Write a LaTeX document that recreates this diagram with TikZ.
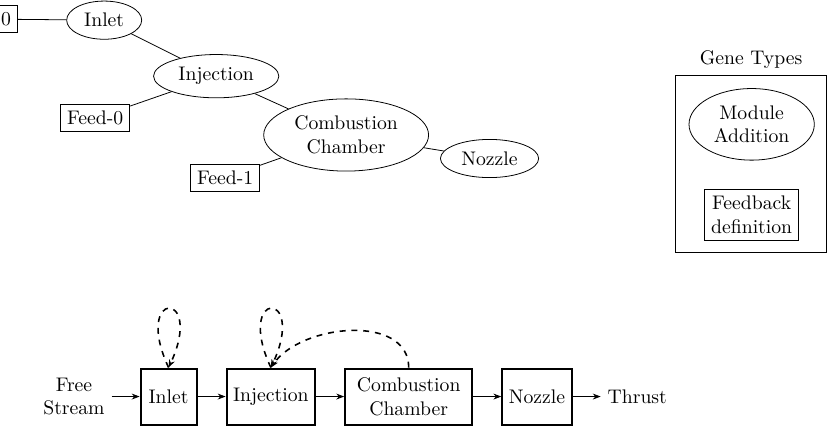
\documentclass[tikz,border=0pt]{standalone}
\usetikzlibrary{positioning,shapes.geometric,arrows.meta}
\begin{document}
\begin{tikzpicture}[
    x=1cm, y=1cm,
    gene/.style={draw, ellipse, align=center},
    feed/.style={draw, rectangle, align=center},
    block/.style={draw, line width=1pt, minimum width=1cm, minimum height=1cm, align=center},
    flow/.style={-{Stealth[length=4pt]}},
    fb/.style={thick, dashed, -{Stealth[length=4pt]}},
    selfloop/.style={fb, out=115, in=65, distance=1.55cm}
  ]
  \useasboundingbox (0,0) rectangle (14.89,7.68);

  % Genoma (em cima)
  \node[feed, anchor=east] (fd2) at (0.32,7.34) {Feed-0};
  \node[gene] (inlet) at (1.86,7.32) {Inlet};
  \node[gene] (inj) at (3.86,6.32) {Injection};
  \node[feed] (fd0) at (1.70,5.57) {Feed-0};
  \node[gene] (comb) at (6.18,5.27) {Combustion\\Chamber};
  \node[feed] (fd1) at (4.02,4.51) {Feed-1};
  \node[gene] (noz) at (8.74,4.85) {Nozzle};

  \draw (fd2) -- (inlet);
  \draw (inlet) -- (inj);
  \draw (inj) -- (fd0);
  \draw (inj) -- (comb);
  \draw (comb) -- (fd1);
  \draw (comb) -- (noz);

  % Legenda
  \node[draw, minimum width=2.70cm, minimum height=3.15cm,
        label={above:Gene Types}] (legend) at (13.41,4.75) {};
  \node[gene] (lgene) at (13.42,5.46) {Module\\Addition};
  \node[feed] (lfeed) at (13.42,3.84) {Feedback\\definition};

  % Motor (em baixo)
  \node[block] (inlet2) at (3.01,0.60) {Inlet};
  \node[block, right=0.5cm of inlet2] (inj2) {Injection};
  \node[block, right=0.5cm of inj2, minimum width=2.27cm] (comb2) {Combustion\\Chamber};
  \node[block, right=0.5cm of comb2] (noz2) {Nozzle};
  \node[left=0.5cm of inlet2, align=center] (free) {Free\\Stream};
  \node[right=0.5cm of noz2] (thrust) {Thrust};

  \draw[flow] (free) -- (inlet2);
  \draw[flow] (inlet2) -- (inj2);
  \draw[flow] (inj2) -- (comb2);
  \draw[flow] (comb2) -- (noz2);
  \draw[flow] (noz2) -- (thrust);

  % Realimentacoes
  \draw[selfloop] (inlet2.north) to (inlet2.north);
  \draw[selfloop] (inj2.north) to (inj2.north);
  \draw[fb] (comb2.north) to[out=90, in=55] (inj2.north);
\end{tikzpicture}
\end{document}
